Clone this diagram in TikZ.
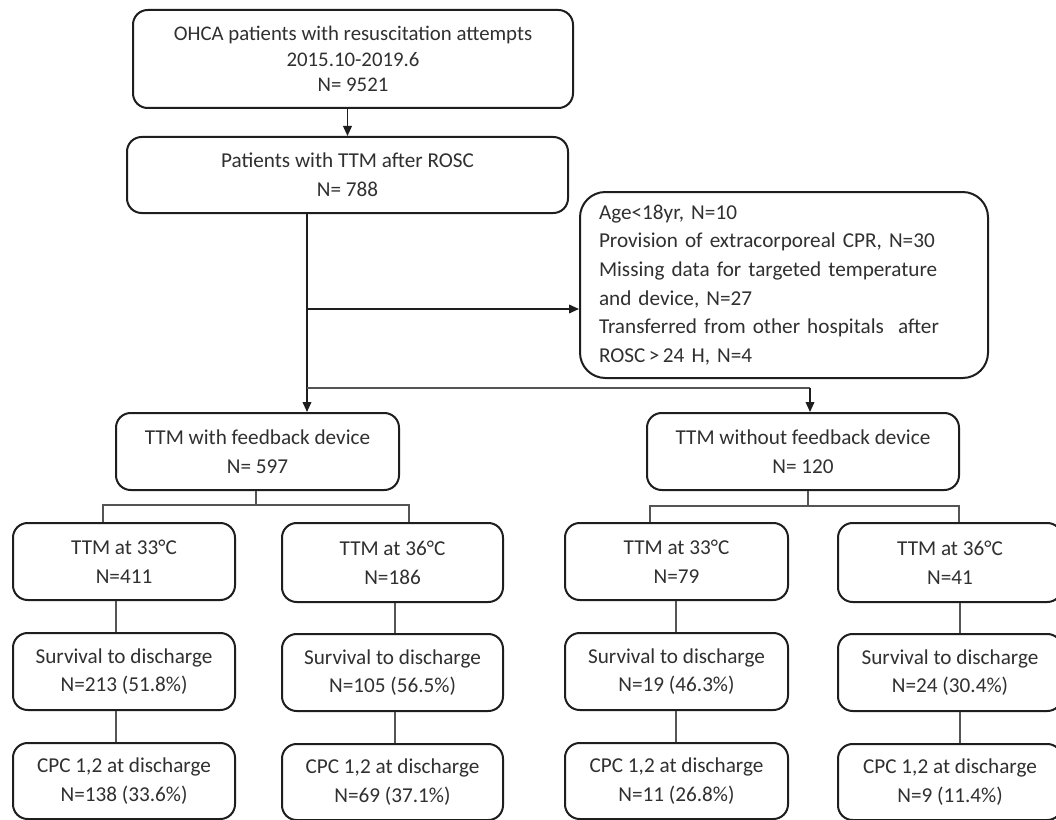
\documentclass[tikz,border=0pt]{standalone}
\usepackage{fontspec}
\setmainfont{Carlito}
\usetikzlibrary{arrows.meta}
\definecolor{txt}{HTML}{303030}
\definecolor{bord}{HTML}{1E1E1E}
\definecolor{thinc}{HTML}{555555}
\tikzset{
  box/.style={draw=bord, line width=1.5pt, rounded corners=11pt, text=txt, align=center,
    font=\fontsize{15.9}{21.5}\selectfont, inner sep=0pt},
  arr/.style={draw=bord, line width=1.2pt, -{Triangle[length=7.5pt,width=6.5pt]}},
  thinl/.style={draw=thinc, line width=0.8pt},
}
\begin{document}
\begin{tikzpicture}[x=0.75pt,y=-0.75pt]
\clip (0,0) rectangle (1056,820);
\fill[white] (0,0) rectangle (1056,820);
% top boxes
\node[box, minimum width=440*0.75pt, minimum height=98*0.75pt, font=\fontsize{15.6}{19}\selectfont] (b1) at (353,59)
  {OHCA patients with resuscitation attempts\\2015.10-2019.6\\N= 9521};
\node[box, minimum width=441*0.75pt, minimum height=76*0.75pt] (b2) at (347.5,175)
  {Patients with TTM after ROSC\\N= 788};
\node[box, rounded corners=19pt, minimum width=408*0.75pt, minimum height=186*0.75pt,
  align=left, text width=370*0.75pt, inner xsep=14pt] (ex) at (784,285)
  {Age<18yr, N=10\\Provision of extracorporeal CPR, N=30\\Missing data for targeted temperature\\and device, N=27\\Transferred from other hospitals\ \ after\\ROSC\,>\,24 H, N=4};
% second level
\node[box, minimum width=283*0.75pt, minimum height=77*0.75pt] (b3) at (257.5,451.5)
  {TTM with feedback device\\N= 597};
\node[box, minimum width=312*0.75pt, minimum height=77*0.75pt] (b4) at (803,451.5)
  {TTM without feedback device\\N= 120};
% third level
\node[box, minimum width=222*0.75pt, minimum height=77*0.75pt] (a1) at (124,561.5) {TTM at 33°C\\N=411};
\node[box, minimum width=221*0.75pt, minimum height=79*0.75pt] (c1) at (392.5,562.5) {TTM at 36°C\\N=186};
\node[box, minimum width=223*0.75pt, minimum height=77*0.75pt] (e1) at (676.5,561.5) {TTM at 33°C\\N=79};
\node[box, minimum width=224*0.75pt, minimum height=79*0.75pt] (g1) at (950,562.5) {TTM at 36°C\\N=41};
% fourth level
\node[box, minimum width=222*0.75pt, minimum height=77*0.75pt] (a2) at (124,671.5) {Survival to discharge\\N=213 (51.8\%)};
\node[box, minimum width=221*0.75pt, minimum height=77*0.75pt] (c2) at (392.5,672.5) {Survival to discharge\\N=105 (56.5\%)};
\node[box, minimum width=223*0.75pt, minimum height=77*0.75pt] (e2) at (676.5,671.5) {Survival to discharge\\N=19 (46.3\%)};
\node[box, minimum width=224*0.75pt, minimum height=77*0.75pt] (g2) at (950,672.5) {Survival to discharge\\N=24 (30.4\%)};
% fifth level
\node[box, minimum width=222*0.75pt, minimum height=76*0.75pt] (a3) at (124,781) {CPC 1,2 at discharge\\N=138 (33.6\%)};
\node[box, minimum width=221*0.75pt, minimum height=76*0.75pt] (c3) at (392.5,782) {CPC 1,2 at discharge\\N=69 (37.1\%)};
\node[box, minimum width=223*0.75pt, minimum height=76*0.75pt] (e3) at (676.5,781) {CPC 1,2 at discharge\\N=11 (26.8\%)};
\node[box, minimum width=224*0.75pt, minimum height=76*0.75pt] (g3) at (950,782) {CPC 1,2 at discharge\\N=9 (11.4\%)};
% connectors top
\draw[arr] (b1.south -| b2.north) -- (b2.north);
\coordinate (v) at (307,0);
\coordinate (jA) at (307,309);
\coordinate (jB) at (307,388);
\coordinate (jC) at (810,388);
\draw[arr] (b2.south -| v) -- (b3.north -| v);
\draw[arr] (jA) -- (jA -| ex.west);
\draw[thinl] (jB) -- (jC);
\draw[arr] (jC) -- (jC |- b4.north);
% branch from b3
\coordinate (h3) at (256,505);
\coordinate (h3l) at (103,505);
\coordinate (h3r) at (409,505);
\draw[thinl] (b3.south -| h3) -- (h3);
\draw[thinl] (a1.north -| h3l) -- (h3l) -- (h3r) -- (c1.north -| h3r);
% branch from b4
\coordinate (h4) at (808,506);
\coordinate (h4l) at (650,506);
\coordinate (h4r) at (959,506);
\draw[thinl] (b4.south -| h4) -- (h4);
\draw[thinl] (e1.north -| h4l) -- (h4l) -- (h4r) -- (g1.north -| h4r);
% column connectors
\coordinate (ca) at (116,0);
\coordinate (cc) at (395,0);
\coordinate (ce) at (676,0);
\coordinate (cg) at (960,0);
\draw[thinl] (a1.south -| ca) -- (a2.north -| ca);
\draw[thinl] (a2.south -| ca) -- (a3.north -| ca);
\draw[thinl] (c1.south -| cc) -- (c2.north -| cc);
\draw[thinl] (c2.south -| cc) -- (c3.north -| cc);
\draw[thinl] (e1.south -| ce) -- (e2.north -| ce);
\draw[thinl] (e2.south -| ce) -- (e3.north -| ce);
\draw[thinl] (g1.south -| cg) -- (g2.north -| cg);
\draw[thinl] (g2.south -| cg) -- (g3.north -| cg);
\end{tikzpicture}
\end{document}
